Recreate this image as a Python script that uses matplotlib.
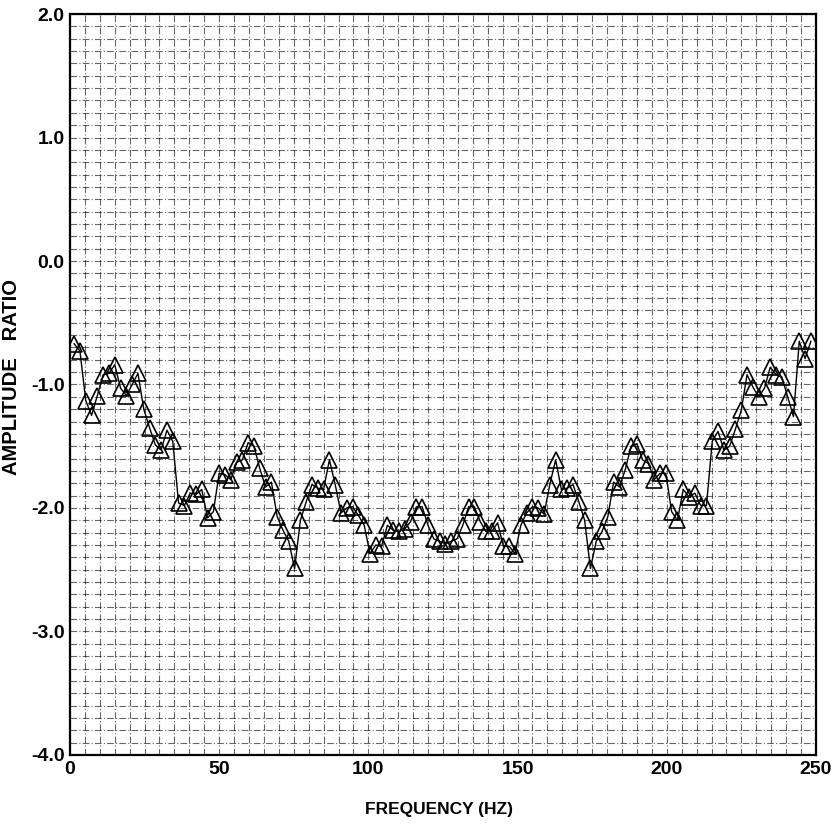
import numpy as np
import matplotlib
matplotlib.use("Agg")
import matplotlib.pyplot as plt
from matplotlib.ticker import MultipleLocator

# amplitude ratio, left to right
amp = [
    -0.67, -0.73, -1.13, -1.25, -1.09, -0.92, -0.91, -0.84, -1.03, -1.09,
    -1.00, -0.91, -1.20, -1.35, -1.49, -1.53, -1.37, -1.46, -1.96, -1.98,
    -1.88, -1.89, -1.85, -2.08, -2.03, -1.72, -1.73, -1.77, -1.63, -1.61,
    -1.47, -1.50, -1.68, -1.83, -1.79, -2.07, -2.18, -2.27, -2.49, -2.10,
    -1.95, -1.81, -1.84, -1.85, -1.61, -1.81, -2.04, -2.00, -1.99, -2.06,
    -2.14, -2.37, -2.30, -2.31, -2.14, -2.18, -2.19, -2.17, -2.11, -1.99,
    -1.99, -2.14, -2.25, -2.27, -2.29,
    -2.27, -2.25, -2.14, -1.99, -1.99, -2.11, -2.19, -2.19, -2.12, -2.31,
    -2.31, -2.37, -2.14, -2.04, -1.99, -2.00, -2.05, -1.81, -1.61, -1.85,
    -1.84, -1.81, -1.95, -2.10, -2.49, -2.27, -2.19, -2.07, -1.79, -1.83,
    -1.69, -1.50, -1.48, -1.61, -1.64, -1.77, -1.72, -1.72, -2.03, -2.10,
    -1.85, -1.91, -1.88, -1.98, -1.98, -1.46, -1.38, -1.53, -1.50, -1.36,
    -1.21, -0.92, -1.02, -1.10, -1.03, -0.86, -0.92, -0.94, -1.10, -1.26,
    -0.65, -0.79, -0.65,
]
# evenly spaced spectrum bins between the first and last readable points
freq = np.linspace(1.4, 248.3, len(amp))

x_ticks = [0, 50, 100, 150, 200, 250]
y_ticks = [2.0, 1.0, 0.0, -1.0, -2.0, -3.0, -4.0]

plt.rcParams["font.family"] = ["Liberation Sans", "DejaVu Sans"]

fig = plt.figure(figsize=(8.36, 8.30), dpi=100)
ax = fig.add_axes([0.0837, 0.0904, 0.8923, 0.8927])

ax.plot(freq, amp, color="black", lw=1.0, marker="^", ms=11,
        mfc="none", mec="black", mew=1.2, zorder=3)

ax.set_xlim(0, 250)
ax.set_ylim(-4.0, 2.0)
ax.set_xticks(x_ticks)
ax.set_yticks(y_ticks)
ax.set_yticklabels([f"{v:.1f}" for v in y_ticks])
ax.xaxis.set_minor_locator(MultipleLocator(5))
ax.yaxis.set_minor_locator(MultipleLocator(0.1))

ax.grid(which="both", color="black", lw=0.8, alpha=0.6,
        linestyle=(0, (6, 2, 1, 2)))
ax.tick_params(which="both", length=0, pad=4)
for lab in ax.get_xticklabels() + ax.get_yticklabels():
    lab.set_fontweight("bold")
    lab.set_fontsize(14)

for s in ax.spines.values():
    s.set_linewidth(1.6)

ax.set_xlabel("FREQUENCY (HZ)", fontsize=12.5, fontweight="bold")
ax.set_ylabel("AMPLITUDE   RATIO", fontsize=14.5, fontweight="bold")
ax.xaxis.set_label_coords(0.495, -0.063)
ax.yaxis.set_label_coords(-0.066, 0.51)

fig.savefig("out.png", dpi=100)
